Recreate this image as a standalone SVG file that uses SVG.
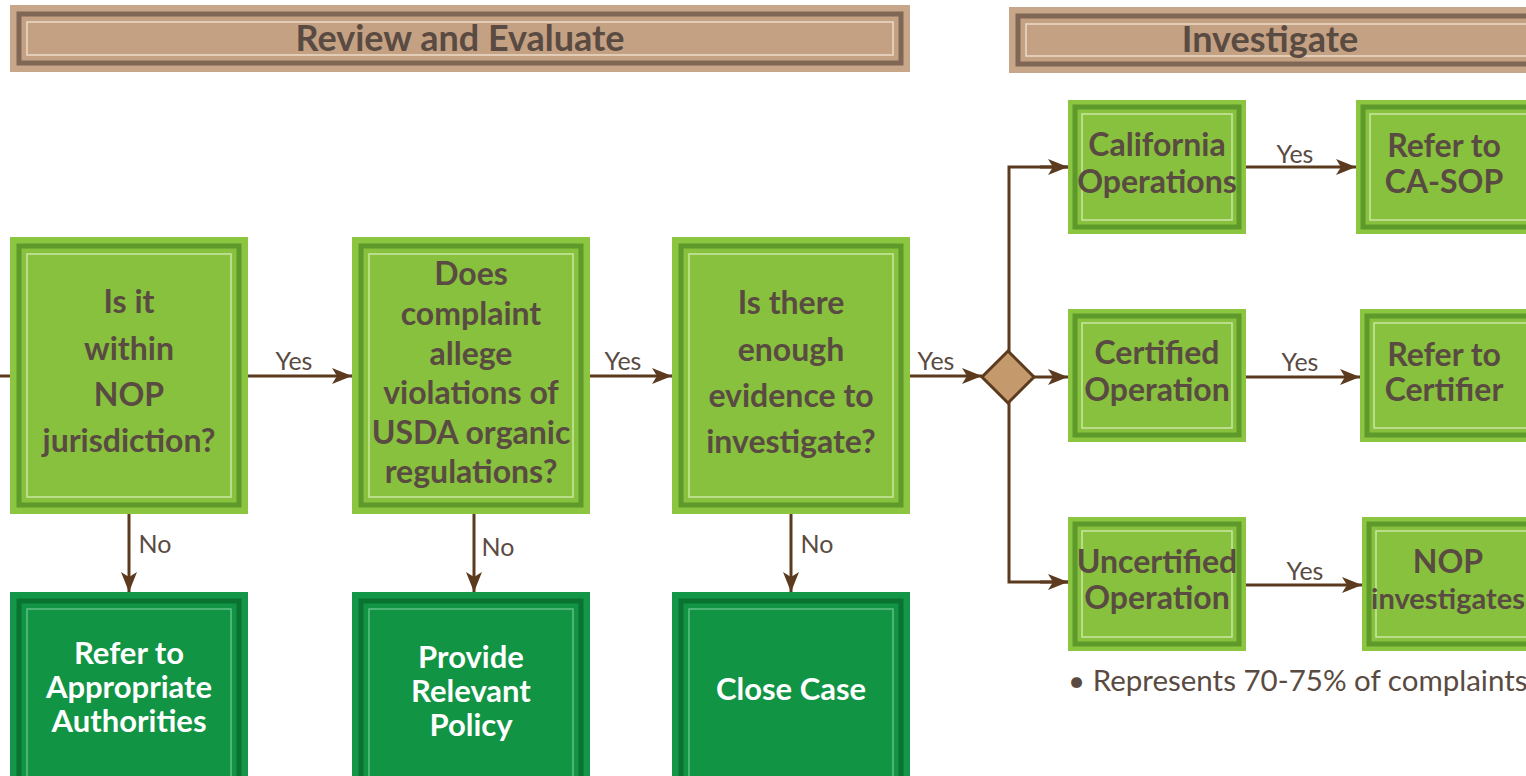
<svg xmlns="http://www.w3.org/2000/svg" width="1526" height="776" viewBox="0 0 1526 776">
<defs>
<style>
.hdrO{fill:#c7a689}
.hdrF{fill:#c4a183;stroke:#806654;stroke-width:5}
.hdrL{fill:none;stroke:#ecdccb;stroke-width:1.5}
.lgO{fill:#8cc540}
.lgF{fill:#87c13d;stroke:#5e9a2b;stroke-width:5}
.lgL{fill:none;stroke:#cbe6a4;stroke-width:1.5}
.dgO{fill:#139647}
.dgF{fill:#119444;stroke:#0a7332;stroke-width:5}
.dgL{fill:none;stroke:#62c087;stroke-width:1.5}
.ht{font-family:Lato,"Open Sans",sans-serif;font-weight:bold;font-size:36px;fill:#5a4b42;text-anchor:middle}
.nt{font-family:Lato,"Open Sans",sans-serif;font-weight:bold;font-size:32px;fill:#5a4b42;text-anchor:middle}
.wt{font-family:Lato,"Open Sans",sans-serif;font-weight:bold;font-size:31px;fill:#ffffff;text-anchor:middle}
.lbl{font-family:Lato,"Open Sans",sans-serif;font-size:25px;fill:#5a4b42;text-anchor:middle}
.bul{font-family:Lato,"Open Sans",sans-serif;font-size:29.5px;fill:#5a4b42}
.con{stroke:#5b3a1d;stroke-width:3;fill:none}
</style>
<marker id="ah2" viewBox="0 0 20 16" refX="20" refY="8" markerWidth="20" markerHeight="16" markerUnits="userSpaceOnUse" orient="auto">
<path d="M0,0 L20,8 L0,16 L5,8 z" fill="#5b3a1d"/>
</marker>
</defs>
<rect width="1526" height="776" fill="#ffffff"/>

<g id="header-review">
<rect class="hdrO" x="10" y="5" width="900" height="67"/>
<rect class="hdrF" x="19" y="14" width="882" height="49"/>
<rect class="hdrL" x="27" y="22" width="866" height="33"/>
<text class="ht" x="460" y="51">Review and Evaluate</text>
</g>
<g id="header-investigate">
<rect class="hdrO" x="1009" y="7" width="530" height="66"/>
<rect class="hdrF" x="1018" y="16" width="520" height="48"/>
<rect class="hdrL" x="1026" y="24" width="520" height="32"/>
<text class="ht" x="1270" y="52">Investigate</text>
</g>

<g id="connectors">
<line class="con" x1="0" y1="376" x2="10" y2="376"/>
<line class="con" x1="248" y1="376" x2="352" y2="376" marker-end="url(#ah2)"/>
<line class="con" x1="590" y1="376" x2="672" y2="376" marker-end="url(#ah2)"/>
<line class="con" x1="910" y1="376" x2="982" y2="376" marker-end="url(#ah2)"/>
<line class="con" x1="1034" y1="377" x2="1068" y2="377" marker-end="url(#ah2)"/>
<path class="con" d="M1068,167 H1009 V582 H1068" />
<line class="con" x1="1040" y1="167" x2="1068" y2="167" marker-end="url(#ah2)"/>
<line class="con" x1="1040" y1="582" x2="1068" y2="582" marker-end="url(#ah2)"/>
<line class="con" x1="1246" y1="167" x2="1356" y2="167" marker-end="url(#ah2)"/>
<line class="con" x1="1246" y1="377" x2="1360" y2="377" marker-end="url(#ah2)"/>
<line class="con" x1="1246" y1="585" x2="1362" y2="585" marker-end="url(#ah2)"/>
<line class="con" x1="129" y1="514" x2="129" y2="592" marker-end="url(#ah2)"/>
<line class="con" x1="474" y1="514" x2="474" y2="592" marker-end="url(#ah2)"/>
<line class="con" x1="791" y1="514" x2="791" y2="592" marker-end="url(#ah2)"/>
<text class="lbl" x="294" y="370">Yes</text>
<text class="lbl" x="623" y="370">Yes</text>
<text class="lbl" x="936" y="370">Yes</text>
<text class="lbl" x="1295" y="163">Yes</text>
<text class="lbl" x="1300" y="371">Yes</text>
<text class="lbl" x="1305" y="580">Yes</text>
<text class="lbl" x="155" y="553">No</text>
<text class="lbl" x="498" y="556">No</text>
<text class="lbl" x="817" y="553">No</text>
</g>

<g id="decision">
<path d="M1008,351 L1034,377 L1008,403 L982,377 Z" fill="#c49a6c" stroke="#5b3a1d" stroke-width="3"/>
</g>

<g id="node-jurisdiction">
<rect class="lgO" x="10" y="237" width="238" height="277"/>
<rect class="lgF" x="19" y="246" width="220" height="259"/>
<rect class="lgL" x="27" y="254" width="204" height="243"/>
<text class="nt" x="129" y="313">Is it</text>
<text class="nt" x="129" y="360">within</text>
<text class="nt" x="129" y="406">NOP</text>
<text class="nt" x="129" y="452">jurisdiction?</text>
</g>
<g id="node-allege">
<rect class="lgO" x="352" y="237" width="238" height="277"/>
<rect class="lgF" x="361" y="246" width="220" height="259"/>
<rect class="lgL" x="369" y="254" width="204" height="243"/>
<text class="nt" x="471" y="285">Does</text>
<text class="nt" x="471" y="325">complaint</text>
<text class="nt" x="471" y="365">allege</text>
<text class="nt" x="471" y="404">violations of</text>
<text class="nt" x="471" y="444">USDA organic</text>
<text class="nt" x="471" y="483">regulations?</text>
</g>
<g id="node-evidence">
<rect class="lgO" x="672" y="237" width="238" height="277"/>
<rect class="lgF" x="681" y="246" width="220" height="259"/>
<rect class="lgL" x="689" y="254" width="204" height="243"/>
<text class="nt" x="791" y="314">Is there</text>
<text class="nt" x="791" y="361">enough</text>
<text class="nt" x="791" y="407">evidence to</text>
<text class="nt" x="791" y="453">investigate?</text>
</g>

<g id="node-authorities">
<rect class="dgO" x="10" y="592" width="238" height="200"/>
<rect class="dgF" x="19" y="601" width="220" height="190"/>
<rect class="dgL" x="27" y="609" width="204" height="180"/>
<text class="wt" x="129" y="664">Refer to</text>
<text class="wt" x="129" y="698">Appropriate</text>
<text class="wt" x="129" y="732">Authorities</text>
</g>
<g id="node-policy">
<rect class="dgO" x="352" y="592" width="238" height="200"/>
<rect class="dgF" x="361" y="601" width="220" height="190"/>
<rect class="dgL" x="369" y="609" width="204" height="180"/>
<text class="wt" x="471" y="668">Provide</text>
<text class="wt" x="471" y="702">Relevant</text>
<text class="wt" x="471" y="736">Policy</text>
</g>
<g id="node-close">
<rect class="dgO" x="672" y="592" width="238" height="200"/>
<rect class="dgF" x="681" y="601" width="220" height="190"/>
<rect class="dgL" x="689" y="609" width="204" height="180"/>
<text class="wt" x="791" y="700">Close Case</text>
</g>

<g id="node-california">
<rect class="lgO" x="1068" y="100" width="178" height="134"/>
<rect class="lgF" x="1075" y="107" width="164" height="120"/>
<rect class="lgL" x="1082" y="114" width="150" height="106"/>
<text class="nt" x="1157" y="156">California</text>
<text class="nt" x="1157" y="193">Operations</text>
</g>
<g id="node-casop">
<rect class="lgO" x="1356" y="100" width="190" height="134"/>
<rect class="lgF" x="1363" y="107" width="190" height="120"/>
<rect class="lgL" x="1370" y="114" width="190" height="106"/>
<text class="nt" x="1444" y="157">Refer to</text>
<text class="nt" x="1444" y="193">CA-SOP</text>
</g>
<g id="node-certified">
<rect class="lgO" x="1068" y="309" width="178" height="133"/>
<rect class="lgF" x="1075" y="316" width="164" height="119"/>
<rect class="lgL" x="1082" y="323" width="150" height="105"/>
<text class="nt" x="1157" y="364">Certified</text>
<text class="nt" x="1157" y="401">Operation</text>
</g>
<g id="node-certifier">
<rect class="lgO" x="1360" y="309" width="190" height="133"/>
<rect class="lgF" x="1367" y="316" width="190" height="119"/>
<rect class="lgL" x="1374" y="323" width="190" height="105"/>
<text class="nt" x="1444" y="366">Refer to</text>
<text class="nt" x="1444" y="401">Certifier</text>
</g>
<g id="node-uncertified">
<rect class="lgO" x="1068" y="517" width="178" height="134"/>
<rect class="lgF" x="1075" y="524" width="164" height="120"/>
<rect class="lgL" x="1082" y="531" width="150" height="106"/>
<text class="nt" x="1157" y="573">Uncertified</text>
<text class="nt" x="1157" y="609">Operation</text>
</g>
<g id="node-nop">
<rect class="lgO" x="1362" y="517" width="190" height="134"/>
<rect class="lgF" x="1369" y="524" width="190" height="120"/>
<rect class="lgL" x="1376" y="531" width="190" height="106"/>
<text class="nt" x="1448" y="573">NOP</text>
<text class="nt" x="1448" y="609" style="font-size:29px">investigates</text>
</g>

<g id="note">
<text class="bul" x="1068" y="691">• Represents 70-75% of complaints</text>
</g>
</svg>
